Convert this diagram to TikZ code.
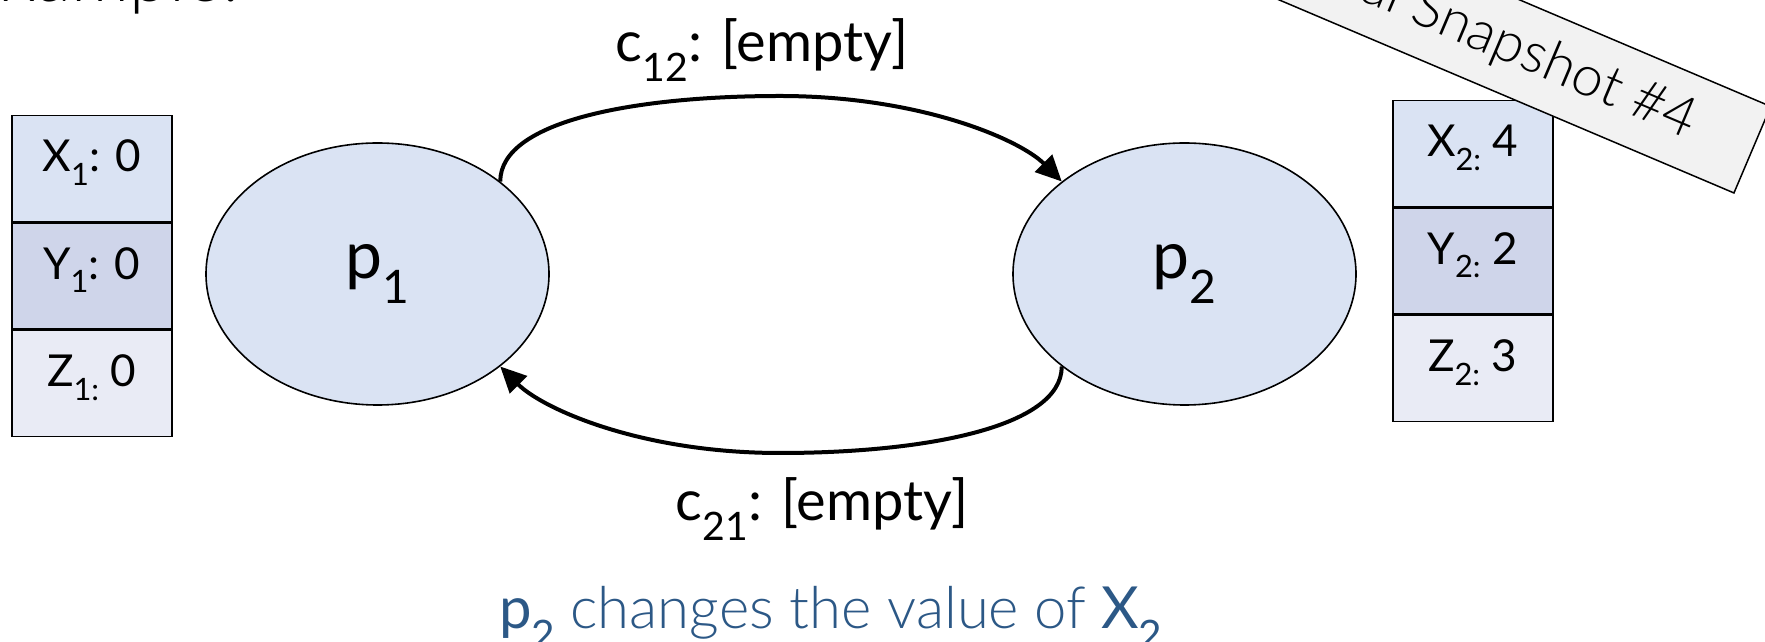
\documentclass[tikz,border=0pt]{standalone}
\usepackage{fontspec}
\setmainfont{Lato}
\newfontfamily\lightfont{Lato Light}
\usetikzlibrary{arrows.meta,shapes.geometric}
\definecolor{cx}{HTML}{DAE3F3}
\definecolor{cy}{HTML}{CFD5EA}
\definecolor{cz}{HTML}{E9EBF5}
\definecolor{txtblue}{HTML}{2C5886}
\definecolor{snapgray}{HTML}{F2F2F2}
\begin{document}
\begin{tikzpicture}[x=1pt,y=1pt,
  cell/.style={draw=black, line width=1.5pt, inner sep=0pt, minimum width=160pt,
    text height=56pt, text depth=50pt, font=\fontsize{44}{50}\selectfont, anchor=north},
  proc/.style={ellipse, draw=black, line width=1.6pt, fill=cx, minimum width=343pt,
    minimum height=262pt, inner sep=0pt, font=\fontsize{66}{72}\selectfont},
  chan/.style={-{Triangle[length=26pt,width=24pt]}, line width=4pt},
  lbl/.style={font=\fontsize{56}{62}\selectfont, anchor=base, inner sep=0pt},
  snap/.style={draw=black, line width=1.5pt, fill=snapgray, rotate=-23, anchor=east,
    minimum height=94pt, inner xsep=64pt, font=\lightfont\fontsize{56}{62}\selectfont}]
\useasboundingbox (0,0) rectangle (1765,642);
\clip (0,0) rectangle (1765,642);

% title (cut off)
\node[anchor=base east, inner sep=0pt, font=\lightfont\fontsize{72}{78}\selectfont] (title) at (240,640) {Example:};

% left table
\node[cell, fill=cx, anchor=north west] (x1) at (11,527) {X\textsubscript{1}: 0};
\node[cell, fill=cy] (y1) at (x1.south) {Y\textsubscript{1}: 0};
\node[cell, fill=cz] (z1) at (y1.south) {Z\textsubscript{1:} 0};

% right table
\node[cell, fill=cx, anchor=north west] (x2) at (1392,542) {X\textsubscript{2:} 4};
\node[cell, fill=cy] (y2) at (x2.south) {Y\textsubscript{2:} 2};
\node[cell, fill=cz] (z2) at (y2.south) {Z\textsubscript{2:} 3};

% processes
\node[proc] (p1) at (377.5,368) {p\textsubscript{1}};
\node[proc] (p2) at (1184.5,368) {p\textsubscript{2}};

% channels
\coordinate (top) at (780,546);
\coordinate (bot) at (780,189);
\draw[chan] (p1.37) .. controls +(0,62) and +(-140,0) .. (top)
  .. controls +(140,0) and +(-42,42) .. (p2.143);
\draw[chan] (p2.217) .. controls +(0,-62) and +(140,0) .. (bot)
  .. controls +(-140,0) and +(42,-42) .. (p1.323);

\node[lbl] (c12) at (762,580) {c\textsubscript{12}: [empty]};
\node[lbl] (c21) at (822,121) {c\textsubscript{21}: [empty]};

% caption
\node[anchor=base, inner sep=0pt, text=txtblue, font=\fontsize{58}{64}\selectfont] (cap) at (831,13)
  {p\textsubscript{2} {\lightfont changes the value of} X\textsubscript{2}};

% snapshot label
\node[snap] (snapshot) at (1753,492) {Global Snapshot \#4};
\end{tikzpicture}
\end{document}
